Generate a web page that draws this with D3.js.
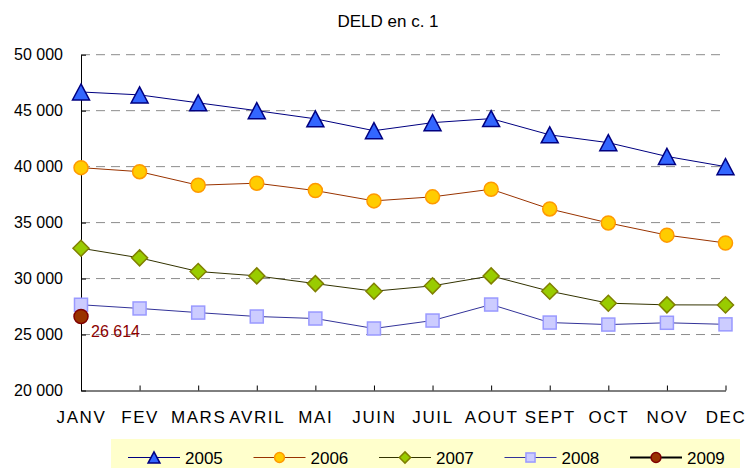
<!DOCTYPE html>
<html>
<head>
<meta charset="utf-8">
<script src="https://cdn.jsdelivr.net/npm/d3@7"></script>
<style>
  body { margin: 0; background: #fff; }
  text { font-family: "Liberation Sans", Arial, sans-serif; fill: #000; }
</style>
</head>
<body>
<script>
// months on the x axis
const months = ["JANV", "FEV", "MARS", "AVRIL", "MAI", "JUIN", "JUIL", "AOUT", "SEPT", "OCT", "NOV", "DEC"];
// one array per year
const v2005 = [46670, 46410, 45700, 45000, 44270, 43210, 43930, 44290, 42840, 42140, 40910, 40000];
const v2006 = [39910, 39550, 38340, 38520, 37860, 36940, 37300, 37980, 36220, 34970, 33880, 33180];
const v2007 = [32710, 31850, 30630, 30240, 29550, 28870, 29350, 30240, 28870, 27800, 27650, 27640];
const v2008 = [27660, 27330, 26960, 26610, 26430, 25540, 26250, 27680, 26070, 25890, 26050, 25910];
const v2009 = [26614];
const years = ["2005", "2006", "2007", "2008", "2009"];
const yTicks = [20000, 25000, 30000, 35000, 40000, 45000, 50000];

const width = 746, height = 468;

const series = [
  {name: "2005", values: v2005, line: "#000080", lw: 1, shape: "tri", fill: "#3366ff", stroke: "#000080"},
  {name: "2006", values: v2006, line: "#993300", lw: 1, shape: "circ", fill: "#ffcc00", stroke: "#ff9900"},
  {name: "2007", values: v2007, line: "#333300", lw: 1, shape: "dia", fill: "#99cc00", stroke: "#808000"},
  {name: "2008", values: v2008, line: "#333399", lw: 1, shape: "sq", fill: "#ccccff", stroke: "#9999ff"},
  {name: "2009", values: v2009, line: "#000000", lw: 2.2, shape: "circ", fill: "#993300", stroke: "#800000"}
];

const svg = d3.select("body").append("svg")
    .attr("width", width)
    .attr("height", height);

const x = d3.scalePoint().domain(months).range([81, 725.5]);
const y = d3.scaleLinear().domain([20000, 50000]).range([390.5, 54.7]);

const fmt = d => d3.format(",")(d).replace(/,/g, " ");

// title
svg.append("text")
    .attr("x", 388).attr("y", 27)
    .attr("text-anchor", "middle")
    .style("font-size", "17px")
    .text("DELD en c. 1");

// dashed gridlines
svg.append("g")
  .selectAll("line")
  .data(yTicks.filter(t => t > 20000))
  .join("line")
    .attr("x1", 81).attr("x2", x("DEC"))
    .attr("y1", d => y(d)).attr("y2", d => y(d))
    .attr("stroke", "#8c8c8c")
    .attr("stroke-width", 1)
    .attr("stroke-dasharray", "9,6");

// y axis
const yAxis = svg.append("g")
    .attr("transform", "translate(81,0)")
    .call(d3.axisLeft(y).tickValues(yTicks).tickFormat(fmt).tickSize(-5).tickSizeOuter(0));
yAxis.select(".domain").attr("stroke", "#000");
yAxis.selectAll(".tick line").attr("stroke", "#000");
yAxis.selectAll("text")
    .attr("x", -18)
    .attr("dy", "0.33em")
    .style("font-size", "16px")
    .style("font-family", "'Liberation Sans', Arial, sans-serif");

// x axis
const xAxis = svg.append("g")
    .attr("transform", "translate(0," + y(20000) + ")")
    .call(d3.axisBottom(x).tickSize(-5).tickSizeOuter(0));
xAxis.select(".domain").attr("stroke", "#000");
xAxis.selectAll(".tick line").attr("stroke", "#000");
xAxis.selectAll("text")
    .attr("y", 32)
    .attr("dy", 0)
    .style("font-size", "17px")
    .style("letter-spacing", "1.6px")
    .style("font-family", "'Liberation Sans', Arial, sans-serif");

function marker(sel, shape, s) {
  if (shape === "circ") {
    sel.append("circle").attr("r", 7 * s);
  } else if (shape === "tri") {
    sel.append("path").attr("d", `M0,${-8 * s}L${8.5 * s},${8 * s}L${-8.5 * s},${8 * s}Z`);
  } else if (shape === "dia") {
    sel.append("path").attr("d", `M0,${-8 * s}L${8 * s},0L0,${8 * s}L${-8 * s},0Z`);
  } else {
    sel.append("rect").attr("x", -6.5 * s).attr("y", -6.5 * s).attr("width", 13 * s).attr("height", 13 * s);
  }
}

const line = d3.line().x((d, i) => x(months[i])).y(d => y(d));

series.forEach(s => {
  const g = svg.append("g");
  g.append("path")
      .datum(s.values)
      .attr("d", line)
      .attr("fill", "none")
      .attr("stroke", s.line)
      .attr("stroke-width", s.lw);
  g.selectAll("g.pt")
    .data(s.values)
    .join("g")
      .attr("class", "pt")
      .attr("transform", (d, i) => `translate(${x(months[i])},${y(d)})`)
      .attr("fill", s.fill)
      .attr("stroke", s.stroke)
      .attr("stroke-width", 1.5)
      .each(function() { marker(d3.select(this), s.shape, 1); });
});

// value label for 2009
svg.append("text")
    .attr("x", x("JANV") + 10)
    .attr("y", y(v2009[0]) + 21)
    .style("font-size", "16px")
    .style("fill", "#8b0000")
    .text(fmt(v2009[0]));

// legend
const legend = svg.append("g");
legend.append("rect")
    .attr("x", 111).attr("y", 439)
    .attr("width", 629).attr("height", 40)
    .attr("fill", "#ffffcc");

const item = legend.selectAll("g.item")
  .data(series)
  .join("g")
    .attr("class", "item")
    .attr("transform", (d, i) => `translate(${128 + i * 125.5},457.5)`);

item.append("line")
    .attr("x1", 0).attr("x2", 52)
    .attr("stroke", d => d.line)
    .attr("stroke-width", d => d.lw);

item.append("g")
    .attr("transform", "translate(26,0)")
    .attr("fill", d => d.fill)
    .attr("stroke", d => d.stroke)
    .attr("stroke-width", 1.5)
    .each(function(d) { marker(d3.select(this), d.shape, 0.7); });

item.append("text")
    .attr("x", 57)
    .attr("y", 6)
    .style("font-size", "17px")
    .text(d => d.name);
</script>
</body>
</html>
